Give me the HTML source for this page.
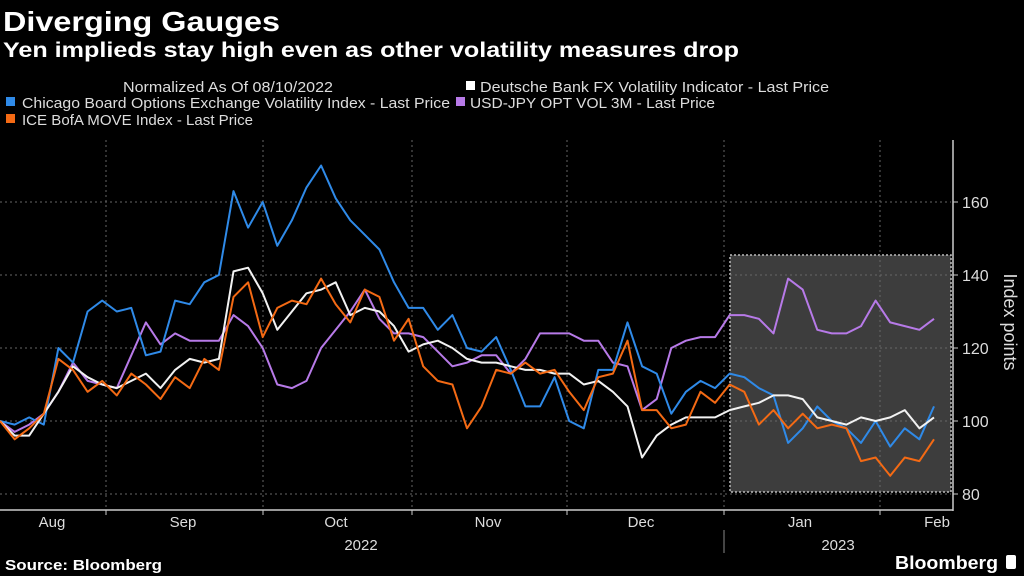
<!DOCTYPE html>
<html><head><meta charset="utf-8"><style>
html,body{margin:0;padding:0;background:#000;}
svg{display:block;font-family:"Liberation Sans",sans-serif;}
</style></head><body>
<svg id="chart" width="1024" height="576" viewBox="0 0 1024 576" xmlns="http://www.w3.org/2000/svg">
<rect width="1024" height="576" fill="#000"/>
<text x="3" y="31" fill="#fff" font-weight="bold" font-size="28" textLength="277" lengthAdjust="spacingAndGlyphs">Diverging Gauges</text>
<text x="3" y="57" fill="#fff" font-weight="bold" font-size="21" textLength="736" lengthAdjust="spacingAndGlyphs">Yen implieds stay high even as other volatility measures drop</text>
<g font-size="15" fill="#ddd">
<text x="123" y="92" textLength="210" lengthAdjust="spacingAndGlyphs">Normalized As Of 08/10/2022</text>
<g><rect x="466" y="81" width="9" height="9" fill="#fff"/><text x="480" y="92" textLength="349" lengthAdjust="spacingAndGlyphs">Deutsche Bank FX Volatility Indicator - Last Price</text></g>
<g><rect x="6" y="97" width="9" height="9" fill="#2f8ae8"/><text x="22" y="108" textLength="428" lengthAdjust="spacingAndGlyphs">Chicago Board Options Exchange Volatility Index - Last Price</text></g>
<g><rect x="456" y="97" width="9" height="9" fill="#b77ae8"/><text x="470" y="108" textLength="245" lengthAdjust="spacingAndGlyphs">USD-JPY OPT VOL 3M - Last Price</text></g>
<g><rect x="6" y="114" width="9" height="9" fill="#f46a14"/><text x="22" y="125" textLength="231" lengthAdjust="spacingAndGlyphs">ICE BofA MOVE Index - Last Price</text></g>
</g>
<rect x="730" y="255" width="221" height="237" fill="#3d3d3d" stroke="#bbb" stroke-width="1.5" stroke-dasharray="2 2"/>
<g id="grid"></g>
<g id="series"></g>
<g id="axes"></g>
<text transform="translate(1004,322) rotate(90)" fill="#ddd" font-size="18" text-anchor="middle">Index points</text>
<text x="5" y="570" fill="#fff" font-weight="bold" font-size="15" textLength="157" lengthAdjust="spacingAndGlyphs">Source: Bloomberg</text>
<text x="895" y="569" fill="#fff" font-weight="bold" font-size="18" textLength="103" lengthAdjust="spacingAndGlyphs">Bloomberg</text>
<rect x="1006" y="555" width="10" height="14" rx="2" fill="#fff"/>
</svg>
<script>
const yTicks = [80, 100, 120, 140, 160];
const months = ["Aug", "Sep", "Oct", "Nov", "Dec", "Jan", "Feb"];
const years = ["2022", "2023"];
const vix = [100,99,101,99,120,116,130,133,130,131,118,119,133,132,138,140,163,153,160,148,155,164,170,161,155,151,147,138,131,131,125,129,120,119,123,114,104,104,112,100,98,114,114,127,115,113,102,108,111,109,113,112,109,107,94,98,104,100,98,94,100,93,98,95,104];
const move = [100,95,98,102,117,114,108,111,107,113,110,106,112,109,117,114,134,138,123,131,133,132,139,132,127,136,134,122,128,115,111,110,98,104,114,113,116,113,114,108,103,112,113,122,103,103,98,99,108,105,110,108,99,103,98,102,98,99,98,89,90,85,90,89,95];
const dbfx = [100,96,96,102,108,115,112,110,109,111,113,109,114,117,116,117,141,142,135,125,130,135,136,138,129,131,130,126,119,121,122,120,117,116,116,115,114,114,113,113,110,111,108,104,90,96,99,101,101,101,103,104,105,107,107,106,101,100,99,101,100,101,103,98,101];
const usdjpy = [100,97,99,102,108,116,111,110,109,118,127,121,124,122,122,122,129,126,120,110,109,111,120,125,130,136,128,124,124,123,119,115,116,118,118,113,117,124,124,124,122,122,116,115,103,106,120,122,123,123,129,129,128,124,139,136,125,124,124,126,133,127,126,125,128];
const NS = "http://www.w3.org/2000/svg";
function yScale(v){ return 421 - (v - 100) * 3.65; }
function xScale(i, n){ return i * 934 / (n - 1); }
function mk(tag, attrs, parent){ const e = document.createElementNS(NS, tag); for (const k in attrs) e.setAttribute(k, attrs[k]); parent.appendChild(e); return e; }
const grid = document.getElementById('grid'), axes = document.getElementById('axes'), ser = document.getElementById('series');
yTicks.forEach(t => {
  const y = yScale(t);
  const l = mk('line', {x1:0, x2:951, y1:y, y2:y, stroke:'#666', 'stroke-dasharray':'2 3', 'stroke-width':1}, grid);
  
  
  const tk = mk('line', {x1:953, x2:958, y1:y, y2:y, stroke:'#ccc'}, axes);
  
  
  const tx = mk('text', {x:962, y:y+6, fill:'#ddd', 'font-size':16}, axes);
  tx.textContent = t;
  
  
});
const monthStarts = [106, 263, 412, 567, 724, 880];
monthStarts.forEach(x => {
  const l = mk('line', {x1:x, x2:x, y1:140, y2:510, stroke:'#666', 'stroke-dasharray':'2 3'}, grid);
  
  
  const tk = mk('line', {x1:x, x2:x, y1:510, y2:515, stroke:'#ccc'}, axes);
  
  
});
const ya = mk('line', {x1:953, x2:953, y1:140, y2:511, stroke:'#ccc', 'stroke-width':1.5}, axes);


const xa = mk('line', {x1:0, x2:953, y1:510, y2:510, stroke:'#ccc', 'stroke-width':1.5}, axes);


const monthX = [52, 183, 336, 488, 641, 800, 937];
months.forEach((m, i) => {
  const t = mk('text', {x:monthX[i], y:527, fill:'#ddd', 'font-size':15, 'text-anchor':'middle'}, axes);
  t.textContent = m;
  
  
});
const yearX = [361, 838];
years.forEach((yv, i) => {
  const t = mk('text', {x:yearX[i], y:550, fill:'#ddd', 'font-size':15, 'text-anchor':'middle'}, axes);
  t.textContent = yv;
  
  
});
const ysep = mk('line', {x1:724, x2:724, y1:530, y2:553, stroke:'#888'}, axes);


function drawLine(data, color, name){
  const pts = data.map((v, i) => xScale(i, data.length).toFixed(1) + ',' + yScale(v).toFixed(1)).join(' ');
  const p = mk('polyline', {points:pts, fill:'none', stroke:color, 'stroke-width':2, 'stroke-linejoin':'round'}, ser);
  
  
}
drawLine(usdjpy, '#b77ae8', 'usdjpy-line');
drawLine(vix, '#2f8ae8', 'vix-line');
drawLine(dbfx, '#f2f2f2', 'dbfx-line');
drawLine(move, '#f46a14', 'move-line');
</script>
</body></html>
